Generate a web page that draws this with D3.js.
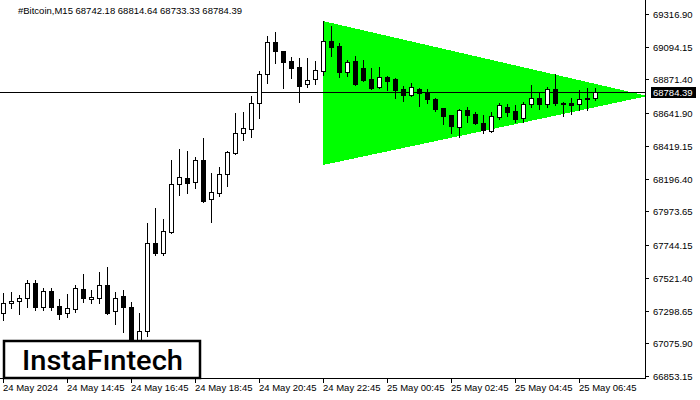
<!DOCTYPE html>
<html>
<head>
<meta charset="utf-8">
<script src="https://cdn.jsdelivr.net/npm/d3@7"></script>
<style>
  body { margin: 0; background: #fff; }
  text { font-family: "Liberation Sans", Arial, sans-serif; }
</style>
</head>
<body>
<svg id="chart" width="700" height="400"></svg>
<script>
// Chart data (BTC, M15, 24 May 12:45 -> 25 May 07:15)
var titleText = "#Bitcoin,M15  68742.18 68814.64 68733.33 68784.39";
var lastPrice = 68784.39;

var openP  = [67282,67350,67364,67384,67486,67323,67432,67330,67282,67309,67445,67377,67384,67472,67296,67398,67323,67044,67159,67758,
              67690,67833,68160,68201,68173,68323,68058,68099,68228,68371,68507,68534,68711,68909,69126,69065,68997,68956,68840,68875,
              68929,69133,69099,68922,68997,68949,68875,68820,68888,68875,68806,68766,68806,68786,68738,68677,68629,68548,68664,68636,
              68575,68521,68616,68684,68657,68609,68704,68745,68704,68806,68711,68711,68704,68745,68742.18];
var highP  = [67418,67425,67404,67507,67507,67452,67452,67377,67411,67472,67547,67438,67561,67595,67425,67438,67357,67282,67894,67997,
              67922,68323,68398,68384,68344,68473,68235,68276,68384,68643,68650,68759,68929,69167,69194,69068,69024,69017,69017,68997,
              69269,69235,69120,69004,69031,69004,68949,68956,68892,68881,68827,68847,68810,68806,68745,68680,68632,68670,68684,68650,
              68629,68650,68711,68704,68698,68718,68834,68786,68820,68909,68718,68745,68800,68813,68814.64];
var lowP   = [67234,67316,67275,67323,67302,67302,67302,67241,67255,67289,67357,67350,67350,67275,67207,67153,66976,67016,67125,67677,
              67677,67826,68085,68099,68133,68040,67901,68078,68146,68365,68459,68480,68609,68847,68983,68813,68881,68718,68820,68840,
              68902,69031,68888,68895,68834,68861,68808,68815,68800,68745,68725,68759,68691,68711,68657,68568,68507,68480,68582,68568,
              68507,68514,68602,68623,68582,68582,68684,68670,68684,68698,68623,68636,68664,68664,68733.33];
var closeP = [67350,67364,67384,67486,67323,67432,67323,67275,67316,67452,67384,67391,67472,67282,67384,67323,67030,67159,67758,67690,
              67840,68160,68208,68167,68323,68044,68105,68228,68378,68507,68541,68711,68909,69126,69065,68990,68949,68827,68868,68936,
              69133,69092,68922,68990,68840,68868,68813,68888,68861,68800,68766,68820,68779,68738,68670,68623,68555,68664,68629,68575,
              68527,68623,68698,68650,68602,68704,68745,68704,68806,68711,68704,68698,68738,68738,68784.39];

// price axis labels (as printed by the terminal)
var yTicks = [69316.90, 69094.15, 68871.40, 68641.90, 68419.15, 68196.40,
              67973.65, 67744.15, 67521.40, 67298.65, 67075.90, 66853.15];

// time axis labels and the bar they sit on
var xLabels = ["24 May 2024", "24 May 14:45", "24 May 16:45", "24 May 18:45", "24 May 20:45",
               "24 May 22:45", "25 May 00:45", "25 May 02:45", "25 May 04:45", "25 May 06:45"];
var xLabelBars = [0, 8, 16, 24, 32, 40, 48, 56, 64, 72];

// symmetric triangle pattern: bar index and price of each corner
var triBars   = [40, 40, 80.6];
var triPrices = [69269, 68289, 68759];

var svg = d3.select("#chart"),
    width = +svg.attr("width"),
    height = +svg.attr("height");

var plotRight = 645, plotBottom = 378;

var x = d3.scaleLinear().domain([0, 74]).range([3, 595]);
var y = d3.scaleLinear().domain([66853.15, 69316.90]).range([376, 14]);

svg.append("rect").attr("width", width).attr("height", height).attr("fill", "#fff");

// triangle
svg.append("polygon")
    .attr("points", triBars.map(function(b, i) { return x(b) + "," + y(triPrices[i]); }).join(" "))
    .attr("fill", "#00ff00")
    .attr("shape-rendering", "crispEdges");

// bid line
var ly = Math.round(y(lastPrice)) + 0.5;
svg.append("line")
    .attr("x1", 0).attr("x2", plotRight)
    .attr("y1", ly).attr("y2", ly)
    .attr("stroke", "#000").attr("stroke-width", 1);

// candles
var candles = svg.append("g").attr("shape-rendering", "crispEdges");
var bars = d3.range(openP.length);

candles.selectAll("line.wick")
  .data(bars)
  .enter()
  .append("line")
    .attr("class", "wick")
    .attr("x1", function(i) { return Math.round(x(i)) + 0.5; })
    .attr("x2", function(i) { return Math.round(x(i)) + 0.5; })
    .attr("y1", function(i) { return Math.round(y(highP[i])); })
    .attr("y2", function(i) { return Math.round(y(lowP[i])) + 1; })
    .attr("stroke", "#000");

candles.selectAll("rect.body")
  .data(bars)
  .enter()
  .append("rect")
    .attr("class", "body")
    .attr("x", function(i) { return Math.round(x(i)) - 1.5; })
    .attr("width", 4)
    .attr("y", function(i) { return Math.round(y(Math.max(openP[i], closeP[i]))) + 0.5; })
    .attr("height", function(i) {
      return Math.max(1, Math.round(y(Math.min(openP[i], closeP[i]))) - Math.round(y(Math.max(openP[i], closeP[i]))));
    })
    .attr("fill", function(i) { return closeP[i] >= openP[i] ? "#fff" : "#000"; })
    .attr("stroke", "#000");

// frame
svg.append("line").attr("x1", plotRight + 0.5).attr("x2", plotRight + 0.5)
    .attr("y1", 0).attr("y2", plotBottom + 1).attr("stroke", "#000");
svg.append("line").attr("x1", 0).attr("x2", plotRight + 1)
    .attr("y1", plotBottom + 0.5).attr("y2", plotBottom + 0.5).attr("stroke", "#000");

// price axis
var yAxis = svg.append("g");
yAxis.selectAll("line")
  .data(yTicks)
  .enter()
  .append("line")
    .attr("x1", plotRight).attr("x2", plotRight + 4)
    .attr("y1", function(d) { return Math.round(y(d)) + 0.5; })
    .attr("y2", function(d) { return Math.round(y(d)) + 0.5; })
    .attr("stroke", "#000");
yAxis.selectAll("text")
  .data(yTicks)
  .enter()
  .append("text")
    .attr("x", 653)
    .attr("y", function(d) { return Math.round(y(d)) + 3.5; })
    .style("font-size", "9.5px")
    .attr("fill", "#000")
    .text(function(d) { return d.toFixed(2); });

// last price tag
svg.append("rect")
    .attr("x", 651).attr("y", ly - 5.5)
    .attr("width", 45).attr("height", 11)
    .attr("fill", "#000");
svg.append("text")
    .attr("x", 653).attr("y", ly + 3.5)
    .style("font-size", "9.5px")
    .attr("fill", "#fff")
    .text(lastPrice.toFixed(2));

// time axis
var xAxis = svg.append("g");
xAxis.selectAll("line")
  .data(xLabelBars)
  .enter()
  .append("line")
    .attr("x1", function(b) { return Math.round(x(b)) + 0.5; })
    .attr("x2", function(b) { return Math.round(x(b)) + 0.5; })
    .attr("y1", plotBottom).attr("y2", plotBottom + 5)
    .attr("stroke", "#000");
xAxis.selectAll("text")
  .data(xLabelBars)
  .enter()
  .append("text")
    .attr("x", function(b) { return Math.round(x(b)); })
    .attr("y", 391)
    .style("font-size", "9.5px")
    .attr("fill", "#000")
    .text(function(b, i) { return xLabels[i]; });

// title
svg.append("text")
    .attr("x", 18).attr("y", 13.5)
    .style("font-size", "9.5px")
    .attr("fill", "#000")
    .text(titleText);

// logo
svg.append("rect")
    .attr("x", 4).attr("y", 341)
    .attr("width", 196).attr("height", 37)
    .attr("fill", "#fff")
    .attr("stroke", "#000").attr("stroke-width", 2.5);
svg.append("text")
    .attr("x", 22).attr("y", 370)
    .attr("textLength", 161)
    .attr("lengthAdjust", "spacingAndGlyphs")
    .style("font-family", "Roboto, 'Open Sans', sans-serif")
    .style("font-weight", 500)
    .style("font-size", "28px")
    .attr("fill", "#000")
    .text("InstaFıntech");
</script>
</body>
</html>
